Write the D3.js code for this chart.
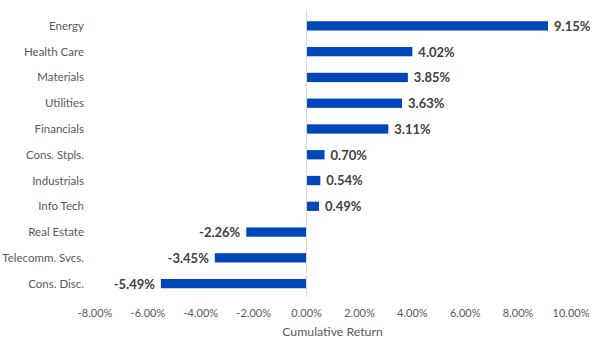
<!DOCTYPE html>
<html>
<head>
<meta charset="utf-8">
<script src="https://cdn.jsdelivr.net/npm/d3@7"></script>
<style>
  body { margin: 0; background: #fff; }
  svg { font-family: Lato, "Open Sans", sans-serif; }
</style>
</head>
<body>
<div id="chart"></div>
<script>
const sectors = ["Energy", "Health Care", "Materials", "Utilities", "Financials", "Cons. Stpls.",
  "Industrials", "Info Tech", "Real Estate", "Telecomm. Svcs.", "Cons. Disc."];
const returns = [9.15, 4.02, 3.85, 3.63, 3.11, 0.70, 0.54, 0.49, -2.26, -3.45, -5.49];
const tickValues = [-8, -6, -4, -2, 0, 2, 4, 6, 8, 10];

const width = 600, height = 343;
const svg = d3.select("#chart").append("svg")
  .attr("width", width)
  .attr("height", height);

const x = d3.scaleLinear().domain([-8, 10]).range([94.5, 570.5]);
const y = d3.scaleBand().domain(sectors).range([13, 296.5]).paddingInner(0.64).paddingOuter(0.32);

// bars
svg.selectAll(".bar")
  .data(sectors)
  .enter()
  .append("rect")
  .attr("class", "bar")
  .attr("x", (d, i) => x(Math.min(0, returns[i])))
  .attr("width", (d, i) => Math.abs(x(returns[i]) - x(0)))
  .attr("y", d => y(d))
  .attr("height", y.bandwidth())
  .attr("fill", "#0047BB");

// zero line
svg.append("line")
  .attr("x1", x(0) + 0.5).attr("x2", x(0) + 0.5)
  .attr("y1", 10).attr("y2", 297)
  .attr("stroke", "#d9d9d9")
  .attr("stroke-width", 1);

// category labels
svg.selectAll(".cat")
  .data(sectors)
  .enter()
  .append("text")
  .attr("x", 84)
  .attr("y", d => y(d) + y.bandwidth() / 2)
  .attr("dy", "0.35em")
  .attr("text-anchor", "end")
  .style("font-size", "11.5px")
  .attr("fill", "#595959")
  .text(d => d);

// value labels
svg.selectAll(".val")
  .data(sectors)
  .enter()
  .append("text")
  .attr("x", (d, i) => returns[i] >= 0 ? x(returns[i]) + 6 : x(returns[i]) - 6)
  .attr("y", d => y(d) + y.bandwidth() / 2)
  .attr("dy", "0.38em")
  .attr("text-anchor", (d, i) => returns[i] >= 0 ? "start" : "end")
  .style("font-size", "13px")
  .style("font-weight", "bold")
  .attr("fill", "#404040")
  .text((d, i) => returns[i].toFixed(2) + "%");

// x axis
const axis = svg.append("g")
  .attr("transform", "translate(0,306)")
  .call(d3.axisBottom(x).tickValues(tickValues).tickSize(0).tickFormat(d => d.toFixed(2) + "%"));
axis.select(".domain").remove();
axis.selectAll("text")
  .style("font-family", "Lato, sans-serif")
  .style("font-size", "11px")
  .attr("fill", "#595959");

svg.append("text")
  .attr("x", (x.range()[0] + x.range()[1]) / 2)
  .attr("y", 336)
  .attr("text-anchor", "middle")
  .style("font-size", "12.3px")
  .attr("fill", "#595959")
  .text("Cumulative Return");
</script>
</body>
</html>
